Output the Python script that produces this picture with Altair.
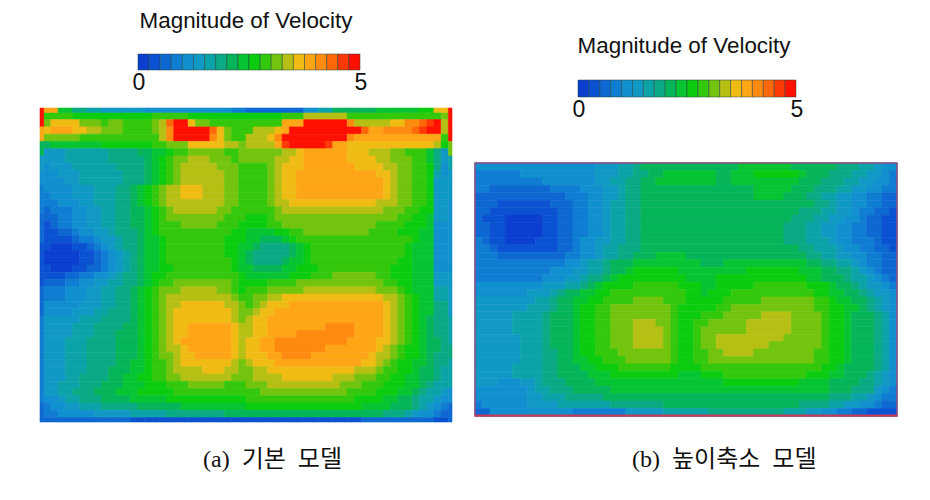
import altair as alt
import pandas as pd

LEVEL_COLORS = ["#0a3fd0", "#0b52d2", "#0d68d2", "#0f7dd2", "#1190d0", "#1099c4", "#0ca3a8", "#0aaa84",
                "#06b45a", "#06c432", "#0ccc10", "#34c80c", "#72c40e", "#b6c014", "#f0bc14", "#ffa516",
                "#ff8a10", "#ff6808", "#ff3a04", "#ff1000"]
LEVEL_CHARS = "0123456789abcdefghij"
TITLE = "Magnitude of Velocity"
CAPTION_A = "(a)\u00a0\u00a0기본\u00a0\u00a0모델"
CAPTION_B = "(b)\u00a0\u00a0높이축소\u00a0\u00a0모델"
BAR_TICKS = [0, 5]

# Each row: runs of <level char><cell count>, left to right, 56 cells wide.
rows_a = [
 "b4 a11 b5 a13 b3 d6 b13 c1",
 "c1 e4 c3 b1 c2 b4 c1 d1 h1 j2 e1 c2 b10 f3 j6 g1 d5 e2 g2 h1 i1 j1 d1",
 "e1 f3 e2 d2 c3 b4 c1 d1 g1 j5 h1 e1 c1 b3 d3 e1 f1 j10 h1 f2 g4 h1 i1 j2 d1",
 "c5 b11 d1 g1 j5 g1 e1 c1 b2 d3 e1 g1 j9 g1 f12 b1",
 "81 97 a7 b2 c3 e5 d2 c1 d4 f1 i1 j5 i1 f2 e12 d1 a1",
 "53 66 74 82 92 a1 b2 c5 b2 c6 d2 e1 f6 e3 d3 c2 b3 91 71 51",
 "53 66 75 81 91 a1 b1 c2 d3 c3 b1 c5 d2 e2 f6 e4 d2 c3 b2 91 71 51",
 "41 53 66 74 81 91 a1 b1 c1 d5 c3 b4 c1 d1 e3 f7 e4 d2 c2 b2 a1 71 41",
 "42 53 66 73 81 91 a1 b1 c1 d6 c2 b4 c1 d1 e2 f11 e2 d1 c2 b2 a1 61 41",
 "43 52 66 73 81 91 a1 b1 c1 d6 c2 b4 c1 d1 e2 f12 e1 d1 c2 b2 a1 52",
 "44 53 63 72 81 91 a1 b1 c1 d2 e3 d3 c2 b4 c1 d1 e2 f12 e1 d1 c2 b2 a1 52",
 "31 43 53 63 72 81 91 a1 b1 c1 d2 e3 d3 c2 b4 c1 d1 e2 f12 e1 d1 c2 b2 a1 52",
 "32 43 52 63 72 81 91 a1 b1 c1 d8 c2 b4 c1 d2 e12 d3 c2 b2 a1 52",
 "21 33 42 52 62 72 82 91 a1 b1 c1 d6 c2 b6 c1 d14 c3 b2 a2 52",
 "22 32 42 52 62 72 82 91 a1 b1 c8 b3 a3 b1 c17 b2 a2 91 52",
 "11 21 32 42 52 62 72 82 91 a1 b3 c5 b3 a4 b2 c13 b4 a3 91 42",
 "12 22 31 42 52 61 73 81 91 a1 b10 a2 94 a2 b2 c9 b4 a3 92 42",
 "14 21 32 41 52 61 72 81 92 a1 b8 a3 92 83 91 a1 b16 a1 92 42",
 "11 03 12 21 31 41 51 61 72 81 92 a1 b8 a2 92 81 74 81 91 a1 b13 a1 93 42",
 "05 12 21 31 41 51 61 71 81 92 a1 b8 a2 91 81 75 81 91 a1 b13 a1 93 42",
 "05 12 21 31 41 51 61 71 81 92 a1 b9 a1 91 81 74 81 92 a1 b12 a2 93 42",
 "11 03 12 22 31 41 51 61 71 81 92 a2 b8 a1 92 84 92 a3 b10 a3 93 42",
 "13 22 32 42 51 61 72 81 91 a2 b10 a1 96 a3 b3 c6 b2 a3 93 52",
 "23 32 42 52 62 72 81 91 a1 b2 c8 b1 a4 b4 c12 b2 a2 93 52",
 "33 43 52 62 72 81 91 a1 b1 c3 d5 c2 b1 a1 b3 c5 d10 c3 b1 a1 93 62",
 "33 43 52 62 72 81 91 a1 b1 c1 d9 c1 b2 c2 d2 e14 d2 c1 b1 a1 92 62",
 "45 53 62 72 81 91 a1 b1 c1 d2 e6 d2 c1 b1 c1 d1 e3 f13 e1 d1 c1 b1 a1 92 72",
 "44 53 62 73 81 91 a1 b1 c1 d1 e8 d1 c2 d1 e2 f15 e1 d1 c1 b1 a1 92 72",
 "55 63 74 81 91 a1 b1 c1 d1 e8 d1 c1 d1 e2 f16 e1 d1 c1 b1 a1 91 81 72",
 "54 63 74 82 91 a1 b1 c1 d1 e2 f6 e1 d2 e2 f8 g4 f4 e1 d1 c1 b1 a1 91 81 72",
 "54 63 73 83 91 a1 b1 c1 d1 e2 f6 e1 d2 e2 f4 g8 f4 e1 d1 c1 b1 a1 91 81 72",
 "53 63 74 83 91 a1 b1 c1 d1 e1 f7 e1 d1 e2 f2 g10 f4 e2 d1 c1 b1 a1 91 82 71",
 "53 63 74 83 91 a1 b1 c1 d2 e1 f6 e1 d1 e2 f2 g7 f7 e1 d1 c1 b1 a2 91 82 71",
 "53 63 74 83 91 a1 b1 c2 d1 e2 f5 e1 d1 e3 f2 g4 f8 e1 d2 c1 b1 a2 91 81 72",
 "53 63 74 82 92 a1 b2 c1 d1 e7 d1 c1 d1 e3 f12 e2 d1 c1 b1 a2 92 81 72",
 "53 63 73 83 92 a1 b2 c1 d4 e3 d2 c2 d2 e12 d3 c1 b2 a2 91 82 71 61",
 "53 62 74 82 92 a2 b2 c2 d7 c3 d4 e7 d3 c3 b2 a2 92 82 71 61",
 "52 63 73 83 93 a3 b3 c5 b3 c3 d10 c3 b3 a3 92 81 71 62",
 "52 62 73 83 93 a5 b12 c12 b4 a3 92 81 71 62 51",
 "42 51 62 73 84 95 a11 b15 a4 92 82 71 62 51 41",
 "31 42 52 63 75 86 99 a16 94 83 71 61 51 41 31",
 "32 45 55 65 78 822 73 61 51 42 31 21",
]
a_top = [15,9,7,6,5,5,5,4,4,4,4,4,4,3,2,2,2,2,4,6,8,8,8,9,9,9,10,14]
a_bottom = [2,2,2,2,2,2,1,1,1,1,1,1,1,1,1,1,1,1,1,1,1,1,2,2,2,2,2,1]
a_left = [19,15,8,5,4,3,3,2,2,1,1,1,2,2,3,3,3,3,3,3,2]
a_right = [19,19,12,6,5,5,4,4,4,4,4,5,5,5,6,6,7,6,6,4,2]

rows_b = [
 "416 53 62 71 813 97 86 73 62 51 42",
 "36 410 53 62 72 82 97 82 93 a6 91 83 73 62 52 41 31",
 "39 47 52 62 72 82 98 82 99 83 73 62 52 42 31",
 "32 28 34 43 52 61 72 815 95 83 73 62 52 42 32",
 "212 33 42 52 61 72 815 94 83 72 62 52 42 32 22",
 "23 17 23 32 42 51 62 72 823 72 61 52 42 32 22",
 "22 19 22 32 42 51 62 72 821 73 62 52 41 32 22 11",
 "21 13 05 12 22 32 42 51 62 72 820 73 62 52 42 31 22 12",
 "22 12 05 12 22 32 42 51 62 72 819 73 62 52 42 32 22 12",
 "22 12 05 12 22 32 42 51 62 72 819 73 62 52 42 32 22 12",
 "31 21 12 04 13 22 31 42 52 62 72 819 73 63 51 42 33 21 12",
 "32 21 18 22 31 42 51 62 73 821 72 63 51 42 32 22 11",
 "33 29 32 42 51 62 72 83 94 816 72 62 52 42 32 22",
 "312 42 51 62 71 83 99 83 911 82 72 62 51 41 32 22",
 "310 43 52 62 71 82 91 a6 99 a7 93 82 72 61 51 41 31 22",
 "39 43 52 61 72 81 91 a9 94 a12 92 83 71 62 51 41 31 21",
 "49 53 62 71 81 91 a4 b6 a3 92 a5 b7 a3 91 82 71 61 52 41 31",
 "47 53 61 71 82 92 a2 b10 a2 91 a3 b11 a2 92 82 71 61 52 41",
 "58 62 71 82 92 a2 b4 c4 b3 a5 b5 c7 b2 a1 92 82 71 61 51 41",
 "57 63 71 82 91 a2 b2 c8 b1 a5 b2 c11 b2 a2 92 81 71 61 51 41",
 "55 64 71 83 91 a2 b2 c8 b1 a3 b3 c5 d4 c4 b1 a2 91 83 71 61 41",
 "55 64 71 83 91 a2 b2 c3 d3 c2 b1 a2 b2 c5 d6 c4 b1 a2 91 83 71 61 41",
 "55 64 71 83 91 a2 b2 c3 d4 c1 b1 a2 b1 c6 d6 c4 b1 a2 91 83 71 61 41",
 "56 63 71 83 91 a2 b2 c3 d4 c1 b1 a2 b1 c2 d9 c5 b1 a2 91 83 71 61 41",
 "56 63 71 83 91 a2 b2 c3 d4 c1 b1 a2 b1 c2 d7 c7 b1 a2 91 83 71 61 41",
 "56 63 72 82 91 a2 b3 c7 b1 a2 b2 c2 d4 c8 b2 a2 91 83 71 61 41",
 "56 63 72 82 92 a2 b3 c6 b1 a2 b2 c14 b2 a2 91 83 71 61 41",
 "55 64 72 83 92 a3 b7 a4 b16 a2 91 84 71 61 41",
 "55 64 72 84 93 a9 93 a3 b11 a3 92 83 71 61 51 41",
 "53 43 52 61 73 84 917 a10 94 84 72 61 51 41",
 "47 51 62 73 85 929 83 73 51 41 31",
 "47 52 63 75 830 73 62 51 41 32",
 "31 46 54 67 77 818 74 62 52 42 31 22",
 "22 411 37 55 66 710 63 52 42 32 22 14",
]


def parse_rows(rows):
    out = []
    for j, row in enumerate(rows):
        x = 0
        for token in row.split():
            n = int(token[1:])
            out.append(dict(x0=x, x1=x + n, y0=j, y1=j + 1, level=LEVEL_CHARS.index(token[0])))
            x += n
    return out


def strips(top, bottom, left, right, n_cols, n_rows, cw, rh, t, s):
    out = []
    out += [dict(x0=i * cw, x1=(i + 1) * cw, y0=-t, y1=0, level=v) for i, v in enumerate(top)]
    out += [dict(x0=i * cw, x1=(i + 1) * cw, y0=n_rows, y1=n_rows + t, level=v) for i, v in enumerate(bottom)]
    out += [dict(x0=-s, x1=0, y0=j * rh, y1=(j + 1) * rh, level=v) for j, v in enumerate(left)]
    out += [dict(x0=n_cols, x1=n_cols + s, y0=j * rh, y1=(j + 1) * rh, level=v) for j, v in enumerate(right)]
    out += [dict(x0=-s, x1=0, y0=-t, y1=0, level=left[0]), dict(x0=-s, x1=0, y0=n_rows, y1=n_rows + t, level=left[-1])]
    out += [dict(x0=n_cols, x1=n_cols + s, y0=-t, y1=0, level=right[0]), dict(x0=n_cols, x1=n_cols + s, y0=n_rows, y1=n_rows + t, level=right[-1])]
    return out


LEVEL_SCALE = alt.Scale(domain=list(range(len(LEVEL_COLORS))), range=LEVEL_COLORS)


def field(records, xdom, xrange_, ydom, yrange_):
    return alt.Chart(pd.DataFrame(records)).mark_rect(strokeWidth=0.6).encode(
        x=alt.X("x0:Q", axis=None, scale=alt.Scale(domain=xdom, range=xrange_, nice=False, zero=False)),
        x2="x1:Q",
        y=alt.Y("y0:Q", axis=None, scale=alt.Scale(domain=ydom, range=yrange_, nice=False, zero=False)),
        y2="y1:Q",
        color=alt.Color("level:O", scale=LEVEL_SCALE, legend=None),
        stroke=alt.Stroke("level:O", scale=LEVEL_SCALE, legend=None),
    )


def colorbar(x_range, y_top, y_bot, title_x, title_y, tick_y):
    bar = pd.DataFrame({"lo": [i * 0.25 for i in range(20)], "hi": [(i + 1) * 0.25 for i in range(20)],
                        "level": list(range(20))})
    scale = alt.Scale(domain=[0, 5], range=x_range, nice=False, zero=False)
    cellsbar = alt.Chart(bar).mark_rect(stroke="#23413a", strokeWidth=0.5).encode(
        x=alt.X("lo:Q", axis=None, scale=scale), x2="hi:Q",
        y=alt.value(y_top), y2=alt.value(y_bot),
        color=alt.Color("level:O", scale=LEVEL_SCALE, legend=None),
    )
    ticks = alt.Chart(pd.DataFrame({"v": BAR_TICKS})).mark_text(
        font="Liberation Sans", fontSize=23, color="#111111", baseline="middle", dx=1).encode(
        x=alt.X("v:Q", axis=None, scale=scale), y=alt.value(tick_y), text="v:Q")
    title = alt.Chart(pd.DataFrame({"t": [TITLE]})).mark_text(
        font="Liberation Sans", fontSize=22.4, color="#111111", baseline="middle").encode(
        x=alt.value(title_x), y=alt.value(title_y), text="t:N")
    return (cellsbar + ticks + title).resolve_scale(x="independent")


def caption(text, x, y):
    return alt.Chart(pd.DataFrame({"t": [text]})).mark_text(
        font="Liberation Serif, Noto Sans CJK KR", fontSize=24, color="#111111", align="left", baseline="middle").encode(
        x=alt.value(x), y=alt.value(y), text="t:N")


panel_a = field(parse_rows(rows_a) + strips(a_top, a_bottom, a_left, a_right, 56, 42, 2, 2, 0.6, 0.5),
                [-0.5, 56.5], [32, 444], [-0.6, 42.6], [100, 414])
panel_b = field(parse_rows(rows_b), [0, 56], [467, 889], [0, 34], [155, 408])
frame_b = alt.Chart(pd.DataFrame({"a": [0]})).mark_rect(fill=None, stroke="#8a4a80", strokeWidth=1.5).encode(
    x=alt.value(467), x2=alt.value(889), y=alt.value(155), y2=alt.value(408))
bottom_b = alt.Chart(pd.DataFrame({"a": [0]})).mark_rule(stroke="#c83a5a", strokeWidth=2).encode(
    x=alt.value(467), x2=alt.value(889), y=alt.value(407.5))

chart = alt.layer(
    panel_a, panel_b, frame_b, bottom_b,
    colorbar([130, 352], 46, 62, 238, 13, 75),
    colorbar([570, 788], 72, 89, 676, 38, 102),
    caption(CAPTION_A, 195, 452),
    caption(CAPTION_B, 624, 452),
).resolve_scale(x="independent", y="independent").properties(
    width=914, height=484, padding=0, autosize=alt.AutoSizeParams(type="none"),
).configure_view(stroke=None)

chart.save("out.html", embed_options={"renderer": "svg", "actions": False})
